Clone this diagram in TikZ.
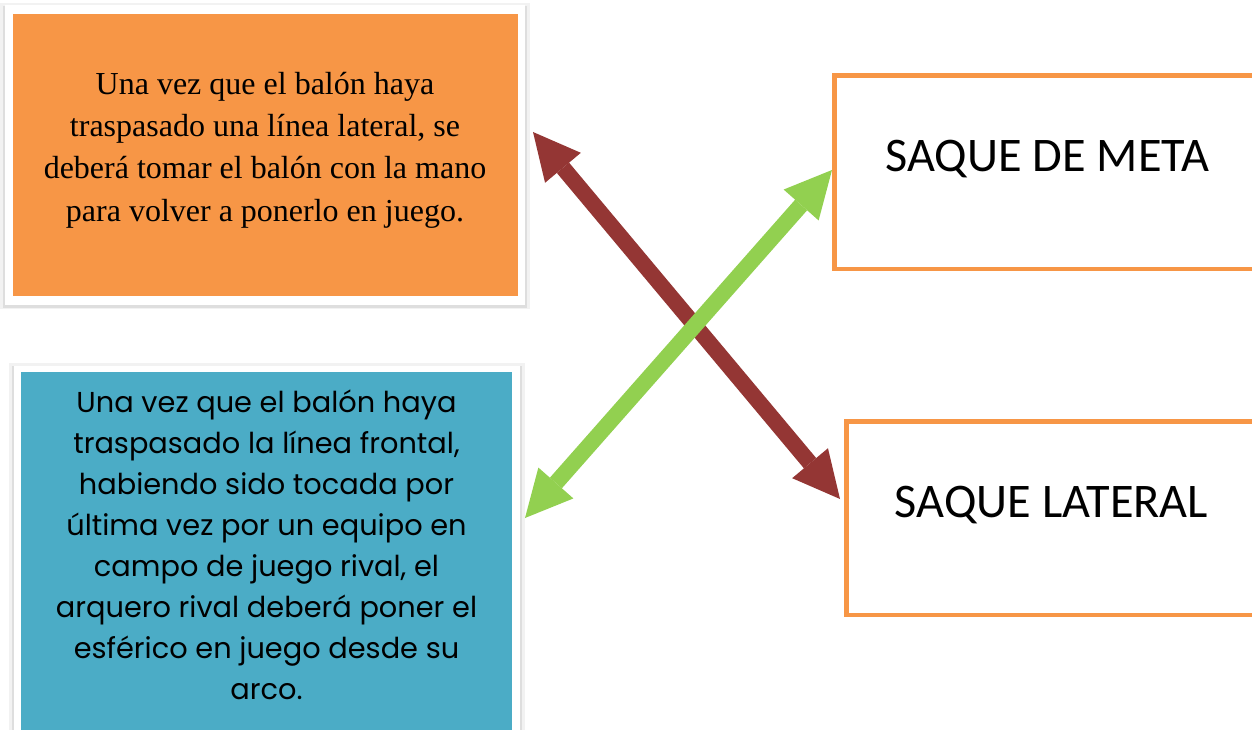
\documentclass[tikz,border=0pt]{standalone}
\usepackage{fontspec}
\usetikzlibrary{arrows.meta,shadows}
\newfontfamily\lateralfont{Liberation Serif}
\newfontfamily\frontalfont{Poppins}
\newfontfamily\saquefont{Carlito}
\definecolor{accentOrange}{RGB}{247,150, 70}
\definecolor{accentBlue}  {RGB}{ 75,172,198}
\definecolor{arrowRed}    {RGB}{148, 54, 52}
\definecolor{arrowGreen}  {RGB}{146,208, 80}

\begin{document}
\begin{tikzpicture}[x=0.75pt, y=-0.75pt,
        frame/.style={fill=white, inner sep=0pt,
                      drop shadow={shadow xshift=0pt, shadow yshift=-1pt,
                        shadow scale=1.02, opacity=.10},
                      drop shadow={shadow xshift=0pt, shadow yshift=-1.5pt,
                        shadow scale=1.008, opacity=.18}},
        panel/.style={inner sep=0pt},
        card/.style={draw=accentOrange, line width=3.5pt,
                     fill=white, inner sep=0pt,
                     minimum height=145pt},
        lbl/.style={font=\saquefont\fontsize{36.2}{42}\selectfont,
                    anchor=base},
        dbl/.style={line width=12pt,
                    {Triangle[length=35pt,width=35pt,line width=0pt]}-{Triangle[length=35pt,width=35pt,line width=0pt]}}]
  \useasboundingbox (0,0) rectangle (1252,730);
  % left column
  \node[frame, minimum width=390pt, minimum height=225pt]
    (lateralframe) at (265,155) {};
  \node[panel, fill=accentOrange,
        minimum width=378.75pt, minimum height=211.5pt]
    (lateralpanel) at (265.5,155) {};
  \node[align=center, font=\lateralfont\fontsize{24}{31.75}\selectfont]
    (lateral) at (265,150)
    {Una vez que el balón haya\\
     traspasado una línea lateral, se\\
     deberá tomar el balón con la mano\\
     para volver a ponerlo en juego.};
  \node[frame, minimum width=379.5pt, minimum height=300pt]
    (frontalframe) at (267,566) {};
  \node[panel, fill=accentBlue,
        minimum width=368.25pt, minimum height=291pt]
    (frontalpanel) at (266.5,566) {};
  \node[align=center, font=\frontalfont\fontsize{21.6}{30.75}\selectfont]
    (frontal) at (266.5,545)
    {Una vez que el balón haya\\
     traspasado la línea frontal,\\
     habiendo sido tocada por\\
     última vez por un equipo en\\
     campo de juego rival, el\\
     arquero rival deberá poner el\\
     esférico en juego desde su\\
     arco.};
  % right column
  \node[card, minimum width=326.6pt] (metabox) at (1052.25,172.5) {};
  \node[lbl] (meta) at (1047.5,171.7) {SAQUE DE META};
  \node[card, minimum width=317.6pt] (latbox) at (1058.25,518.35) {};
  \node[lbl] (lat) at (1051.5,517) {SAQUE LATERAL};
  % crossing arrows
  \coordinate (lateralTip) at (533,132);
  \coordinate (latTip)     at (840,499);
  \coordinate (metaTip)    at (832,170);
  \coordinate (frontalTip) at (525,518);
  \draw[dbl, arrowRed]   (lateralTip) -- (latTip);
  \draw[dbl, arrowGreen] (metaTip) -- (frontalTip);
\end{tikzpicture}
\end{document}
